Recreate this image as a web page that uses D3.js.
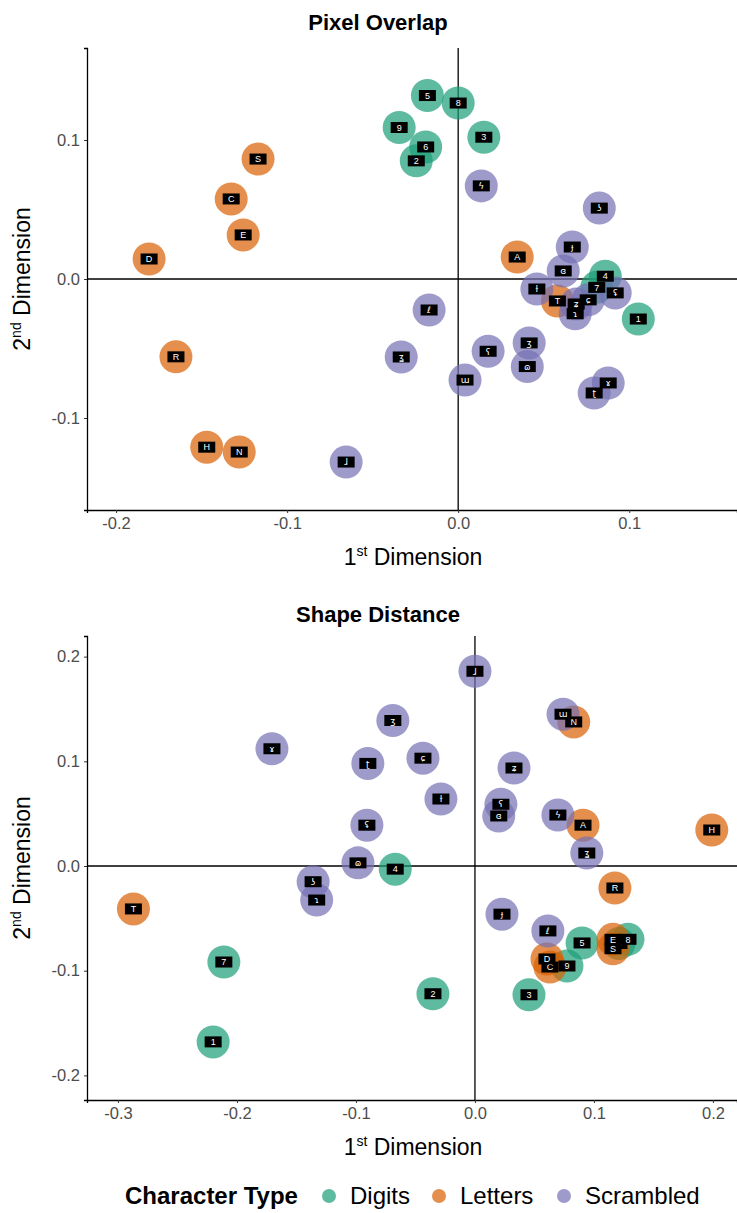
<!DOCTYPE html>
<html>
<head>
<meta charset="utf-8">
<script src="https://cdn.jsdelivr.net/npm/d3@7"></script>
<style>
  body { margin: 0; background: #fff; }
  svg { font-family: "Liberation Sans", Arial, sans-serif; }
</style>
</head>
<body>
<svg id="chart" width="737" height="1213"></svg>
<script>
// point ids: digits, letters, scrambled (drawn in this order)
const digitIds = ['1', '2', '3', '4', '5', '6', '7', '8', '9'];
const letterIds = ['A', 'C', 'D', 'E', 'H', 'N', 'R', 'S', 'T'];
const scrambledGlyphs = ['ɺ', 'ℓ', 'ʓ', 'ɯ', 'ϟ', 'ʖ', 'ɟ', 'ɞ', 'ʢ', 'ɫ', 'ʑ', 'ɕ', 'ɿ', 'ʕ', 'ʒ', 'ɷ', 'ɤ', 'ʈ'];

const typeNames = ['Digits', 'Letters', 'Scrambled'];
const typeColors = ['#1b9e77', '#d95f02', '#7570b3'];

// Pixel Overlap coordinates
const overlapDigitX = [0.1053, -0.0245, 0.015, 0.086, -0.018, -0.019, 0.081, 0.0, -0.0345];
const overlapDigitY = [-0.0288, 0.085, 0.102, 0.002, 0.132, 0.095, -0.006, 0.1266, 0.109];
const overlapLetterX = [0.0345, -0.1327, -0.1807, -0.1257, -0.147, -0.128, -0.165, -0.117, 0.058];
const overlapLetterY = [0.0158, 0.0576, 0.0144, 0.0317, -0.121, -0.1245, -0.056, 0.0863, -0.0158];
const overlapScrambledX = [-0.0655, -0.017, -0.0333, 0.004, 0.0135, 0.0825, 0.0667, 0.0614, 0.0918, 0.046, 0.069, 0.076, 0.0684, 0.0175, 0.0415, 0.0404, 0.0877, 0.0795];
const overlapScrambledY = [-0.1317, -0.0223, -0.0561, -0.0727, 0.067, 0.051, 0.023, 0.0058, -0.010, -0.0072, -0.018, -0.015, -0.025, -0.052, -0.046, -0.063, -0.0748, -0.082];

// Shape Distance coordinates
const shapeDigitX = [-0.220, -0.0353, 0.0454, -0.067, 0.090, 0.121, -0.211, 0.1286, 0.0773];
const shapeDigitY = [-0.168, -0.122, -0.123, -0.003, -0.0735, -0.074, -0.0917, -0.070, -0.0955];
const shapeLetterX = [0.0908, 0.063, 0.0605, 0.116, 0.199, 0.083, 0.1176, 0.116, -0.287];
const shapeLetterY = [0.039, -0.0965, -0.0888, -0.070, 0.0344, 0.1376, -0.021, -0.079, -0.041];
const shapeScrambledX = [0.0, 0.0613, 0.094, 0.074, 0.0697, -0.136, 0.0227, 0.020, -0.0908, -0.0286, 0.0328, -0.0437, -0.133, 0.0218, -0.069, -0.0983, -0.1706, -0.090];
const shapeScrambledY = [0.186, -0.062, 0.0124, 0.145, 0.0487, -0.015, -0.046, 0.0478, 0.039, 0.064, 0.0936, 0.103, -0.0325, 0.059, 0.139, 0.003, 0.112, 0.098];

const overlapTicksX = [-0.2, -0.1, 0.0, 0.1];
const overlapTicksY = [-0.1, 0.0, 0.1];
const shapeTicksX = [-0.3, -0.2, -0.1, 0.0, 0.1, 0.2];
const shapeTicksY = [-0.2, -0.1, 0.0, 0.1, 0.2];

function buildPoints(dx, dy, lx, ly, sx, sy) {
  const pts = [];
  digitIds.forEach((id, i) => pts.push({ label: id, type: 0, x: dx[i], y: dy[i] }));
  letterIds.forEach((id, i) => pts.push({ label: id, type: 1, x: lx[i], y: ly[i] }));
  scrambledGlyphs.forEach((g, i) => pts.push({ label: g, type: 2, x: sx[i], y: sy[i] }));
  return pts;
}

const svg = d3.select('#chart');
const color = d3.scaleOrdinal().domain([0, 1, 2]).range(typeColors);
const fmt = d3.format('.1f');

function drawPanel(opts) {
  const x = d3.scaleLinear().domain(opts.xDomain).range([87, 737]);
  const y = d3.scaleLinear().domain(opts.yDomain).range([opts.bottom, opts.top]);
  const g = svg.append('g');

  g.append('text')
    .attr('x', 378).attr('y', opts.titleY)
    .attr('text-anchor', 'middle')
    .attr('font-size', 22).attr('font-weight', 'bold')
    .text(opts.title);

  // reference lines at zero
  g.append('line')
    .attr('x1', x(0)).attr('x2', x(0))
    .attr('y1', opts.top).attr('y2', opts.bottom)
    .attr('stroke', '#000').attr('stroke-width', 1.3);
  g.append('line')
    .attr('x1', 87).attr('x2', 737)
    .attr('y1', y(0)).attr('y2', y(0))
    .attr('stroke', '#000').attr('stroke-width', 1.3);

  const xAxis = g.append('g')
    .attr('transform', `translate(0,${opts.bottom})`)
    .call(d3.axisBottom(x).tickValues(opts.ticksX).tickSizeOuter(0).tickSize(3).tickPadding(4));
  const yAxis = g.append('g')
    .attr('transform', 'translate(87,0)')
    .call(d3.axisLeft(y).tickValues(opts.ticksY).tickSizeOuter(0).tickSize(3).tickPadding(4));
  [xAxis, yAxis].forEach(a => {
    a.select('.domain').attr('stroke', '#000').attr('stroke-width', 1.3);
    a.selectAll('.tick line').attr('stroke', '#333');
    a.selectAll('.tick text')
      .attr('fill', '#4d4d4d').attr('font-size', 16.5)
      .attr('font-family', '"Liberation Sans", Arial, sans-serif')
      .text(d => fmt(d).replace('−', '-'));
  });

  // axis titles
  const xt = g.append('text')
    .attr('x', 413).attr('y', opts.bottom + 55)
    .attr('text-anchor', 'middle').attr('font-size', 23);
  xt.append('tspan').text('1');
  xt.append('tspan').attr('font-size', 14).attr('dy', -9).text('st');
  xt.append('tspan').attr('dy', 9).text(' Dimension');

  const yt = g.append('text')
    .attr('transform', `translate(30,${(opts.top + opts.bottom) / 2}) rotate(-90)`)
    .attr('text-anchor', 'middle').attr('font-size', 23);
  yt.append('tspan').text('2');
  yt.append('tspan').attr('font-size', 14).attr('dy', -9).text('nd');
  yt.append('tspan').attr('dy', 9).text(' Dimension');

  // circles
  g.append('g').selectAll('circle')
    .data(opts.points).enter().append('circle')
    .attr('cx', d => x(d.x)).attr('cy', d => y(d.y))
    .attr('r', 16.5)
    .attr('fill', d => color(d.type))
    .attr('fill-opacity', 0.7);

  // label boxes on top of every circle
  const lab = g.append('g').selectAll('g')
    .data(opts.points).enter().append('g')
    .attr('transform', d => `translate(${x(d.x)},${y(d.y)})`);
  lab.append('rect')
    .attr('x', -8.5).attr('y', -5.5).attr('width', 17).attr('height', 11)
    .attr('fill', '#000');
  lab.append('text')
    .attr('text-anchor', 'middle').attr('dy', '0.36em')
    .attr('font-size', 9)
    .attr('font-family', d => d.type === 2 ? '"DejaVu Sans", sans-serif' : '"Liberation Sans", Arial, sans-serif')
    .attr('fill', '#fff')
    .text(d => d.label);
}

drawPanel({
  title: 'Pixel Overlap', top: 48, bottom: 510, titleY: 30,
  xDomain: [-0.217, 0.163], yDomain: [-0.1662, 0.1662],
  ticksX: overlapTicksX, ticksY: overlapTicksY,
  points: buildPoints(overlapDigitX, overlapDigitY, overlapLetterX, overlapLetterY, overlapScrambledX, overlapScrambledY)
});

drawPanel({
  title: 'Shape Distance', top: 636, bottom: 1100, titleY: 622,
  xDomain: [-0.326, 0.2202], yDomain: [-0.2235, 0.2197],
  ticksX: shapeTicksX, ticksY: shapeTicksY,
  points: buildPoints(shapeDigitX, shapeDigitY, shapeLetterX, shapeLetterY, shapeScrambledX, shapeScrambledY)
});

// legend
const legend = svg.append('g').attr('transform', 'translate(0,1196)');
legend.append('text')
  .attr('x', 125).attr('y', 0).attr('dy', '0.35em')
  .attr('font-size', 24).attr('font-weight', 'bold')
  .text('Character Type');
const legendX = [329, 439, 564];
typeNames.forEach((name, i) => {
  legend.append('circle')
    .attr('cx', legendX[i]).attr('cy', 0).attr('r', 7)
    .attr('fill', typeColors[i]).attr('fill-opacity', 0.7);
  legend.append('text')
    .attr('x', legendX[i] + 21).attr('y', 0).attr('dy', '0.35em')
    .attr('font-size', 24)
    .text(name);
});
</script>
</body>
</html>
